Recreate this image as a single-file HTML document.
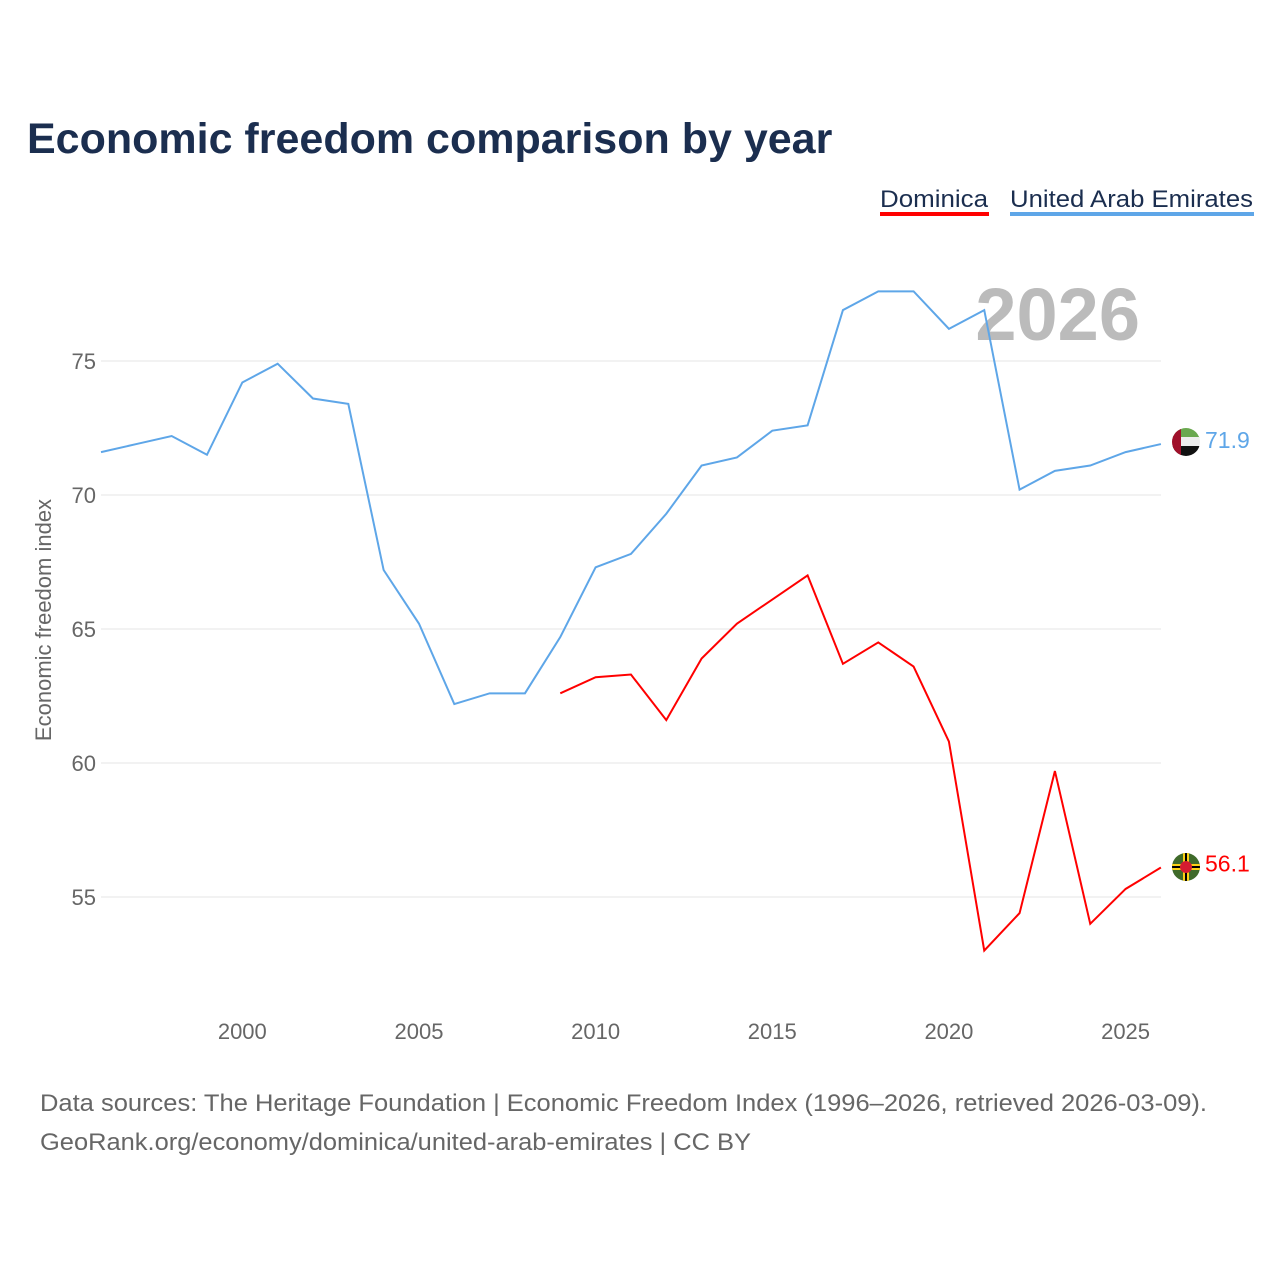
<!DOCTYPE html>
<html><head><meta charset="utf-8"><style>
body{margin:0;background:#fff;font-family:"Liberation Sans",sans-serif}
svg text{font-family:"Liberation Sans",sans-serif}
</style></head><body>
<svg id="c" width="1280" height="1280" xmlns="http://www.w3.org/2000/svg">
<text x="27" y="153" font-size="43" font-weight="bold" fill="#1b2e4f">Economic freedom comparison by year</text>
<g><text x="880" y="207" font-size="24" fill="#1b2e4f" textLength="108" lengthAdjust="spacingAndGlyphs">Dominica</text><rect x="880" y="212" width="109" height="4" fill="#ff0000"/></g>
<g><text x="1010" y="207" font-size="24" fill="#1b2e4f" textLength="243" lengthAdjust="spacingAndGlyphs">United Arab Emirates</text><rect x="1010" y="212" width="244" height="4" fill="#5ea6e8"/></g>
<text x="1140" y="340" font-size="74" font-weight="bold" fill="#bbb" text-anchor="end">2026</text>
<g id="grid"></g><g id="xt"></g><g id="lines"></g>
<text transform="translate(51,620) rotate(-90)" font-size="22" fill="#666" text-anchor="middle">Economic freedom index</text>
<g>
<clipPath id="cu"><circle cx="1186" cy="442" r="14"/></clipPath>
<g clip-path="url(#cu)"><rect x="1172" y="428" width="28" height="10" fill="#6aa84f"/><rect x="1172" y="437" width="28" height="10" fill="#eee"/><rect x="1172" y="446" width="28" height="10" fill="#111"/><rect x="1172" y="428" width="9" height="28" fill="#a0102a"/></g></g>
<g>
<clipPath id="cd"><circle cx="1186" cy="867" r="14"/></clipPath>
<g clip-path="url(#cd)"><rect x="1172" y="853" width="28" height="28" fill="#3f6a2a"/><rect x="1172" y="864" width="28" height="6" fill="#fcd116"/><rect x="1183" y="853" width="6" height="28" fill="#fcd116"/><rect x="1172" y="866" width="28" height="2" fill="#000"/><rect x="1185" y="853" width="2" height="28" fill="#000"/><circle cx="1186" cy="867" r="6" fill="#d41c30"/></g></g>
<text x="40" y="1111" font-size="24" fill="#666" textLength="1167" lengthAdjust="spacingAndGlyphs">Data sources: The Heritage Foundation | Economic Freedom Index (1996–2026, retrieved 2026-03-09).</text>
<text x="40" y="1150" font-size="24" fill="#666" textLength="711" lengthAdjust="spacingAndGlyphs">GeoRank.org/economy/dominica/united-arab-emirates | CC BY</text>
</svg>
<script>
const years=[1996,1997,1998,1999,2000,2001,2002,2003,2004,2005,2006,2007,2008,2009,2010,2011,2012,2013,2014,2015,2016,2017,2018,2019,2020,2021,2022,2023,2024,2025,2026];
const uae=[71.6,71.9,72.2,71.5,74.2,74.9,73.6,73.4,67.2,65.2,62.2,62.6,62.6,64.7,67.3,67.8,69.3,71.1,71.4,72.4,72.6,76.9,77.6,77.6,76.2,76.9,70.2,70.9,71.1,71.6,71.9];
const dominica=[null,null,null,null,null,null,null,null,null,null,null,null,null,62.6,63.2,63.3,61.6,63.9,65.2,66.1,67.0,63.7,64.5,63.6,60.8,53.0,54.4,59.7,54.0,55.3,56.1];
const yTicks=[55,60,65,70,75];
const xTicks=[2000,2005,2010,2015,2020,2025];
const NS="http://www.w3.org/2000/svg";
const X=v=>101+(v-1996)*35.33, Y=v=>361+(75-v)*26.8;
function mk(t,a,p){const e=document.createElementNS(NS,t);for(const k in a)e.setAttribute(k,a[k]);p.appendChild(e);return e;}
const g=document.getElementById('grid'),xt=document.getElementById('xt'),L=document.getElementById('lines');
yTicks.forEach(v=>{const l=mk('line',{x1:101,x2:1161,y1:Y(v),y2:Y(v),stroke:'#e6e6e6'},g);


const t=mk('text',{x:96,y:Y(v)+8,'font-size':22,fill:'#666','text-anchor':'end'},g);t.textContent=v;

});
xTicks.forEach(v=>{const t=mk('text',{x:X(v),y:1039,'font-size':22,fill:'#666','text-anchor':'middle'},xt);t.textContent=v;

});
function line(vals,col,name){let d='';let pen=false;vals.forEach((v,i)=>{if(v==null){pen=false;return;}d+=(pen?'L':'M')+X(years[i])+','+Y(v);pen=true;});
const p=mk('path',{d:d,fill:'none',stroke:col,'stroke-width':2},L);


const last=vals[vals.length-1];
const t=mk('text',{x:1205,y:Y(last)+4,'font-size':23,fill:col},L);t.textContent=last.toFixed(1);

}
line(uae,'#5ea6e8','uae-line');
line(dominica,'#ff0000','dominica-line');
</script>
</body></html>
